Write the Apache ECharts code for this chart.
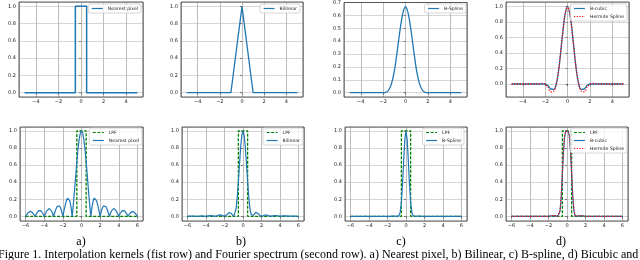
<!DOCTYPE html>
<html>
<head>
<meta charset="utf-8">
<script src="https://cdn.jsdelivr.net/npm/echarts@6/dist/echarts.min.js"></script>
<style>
html,body{margin:0;padding:0;background:#fff;}
#chart{width:640px;height:260px;}
</style>
</head>
<body>
<div id="chart"></div>
<script>
// ---------- DATA ----------
// Top row: interpolation kernels
const nearestKernelX = [-5, -0.5, -0.5, 0.5, 0.5, 5];
const nearestKernelY = [0, 0, 1, 1, 0, 0];
const bilinearKernelX = [-5, -1, 0, 1, 5];
const bilinearKernelY = [0, 0, 1, 0, 0];
const kernelX = [
  -5, -4.75, -4.5, -4.25,
  -4, -3.75, -3.5, -3.25,
  -3, -2.75, -2.5, -2.25,
  -2, -1.75, -1.5, -1.25,
  -1, -0.75, -0.5, -0.25,
  0, 0.25, 0.5, 0.75,
  1, 1.25, 1.5, 1.75,
  2, 2.25, 2.5, 2.75,
  3, 3.25, 3.5, 3.75,
  4, 4.25, 4.5, 4.75,
  5
];
const bsplineKernel = [
  0, 0, 0, 0,
  0, 0, 0, 0,
  0, 0, 0, 0,
  0, 0.003, 0.021, 0.070,
  0.167, 0.315, 0.479, 0.612,
  0.667, 0.612, 0.479, 0.315,
  0.167, 0.070, 0.021, 0.003,
  0, 0, 0, 0,
  0, 0, 0, 0,
  0, 0, 0, 0,
  0
];
const bicubicKernel = [
  0, 0, 0, 0,
  0, 0, 0, 0,
  0, 0, 0, 0,
  0, -0.023, -0.063, -0.070,
  0, 0.227, 0.563, 0.867,
  1, 0.867, 0.563, 0.227,
  0, -0.070, -0.063, -0.023,
  0, 0, 0, 0,
  0, 0, 0, 0,
  0, 0, 0, 0,
  0
];
const hermiteKernel = [
  0, 0, 0, 0,
  0, 0, 0, 0,
  0, 0, 0.004, 0.008,
  0, -0.040, -0.100, -0.095,
  0, 0.225, 0.560, 0.870,
  1, 0.870, 0.560, 0.225,
  0, -0.095, -0.100, -0.040,
  0, 0.008, 0.004, 0,
  0, 0, 0, 0,
  0, 0, 0, 0,
  0
];

// Bottom row: Fourier spectra
const lpfX = [-6, -0.5, -0.5, 0.5, 0.5, 6];
const lpfY = [0, 0, 1, 1, 0, 0];
const freqX = [
  -6, -5.875, -5.75, -5.625, -5.5, -5.375, -5.25, -5.125,
  -5, -4.875, -4.75, -4.625, -4.5, -4.375, -4.25, -4.125,
  -4, -3.875, -3.75, -3.625, -3.5, -3.375, -3.25, -3.125,
  -3, -2.875, -2.75, -2.625, -2.5, -2.375, -2.25, -2.125,
  -2, -1.875, -1.75, -1.625, -1.5, -1.375, -1.25, -1.125,
  -1, -0.875, -0.75, -0.625, -0.5, -0.375, -0.25, -0.125,
  0, 0.125, 0.25, 0.375, 0.5, 0.625, 0.75, 0.875,
  1, 1.125, 1.25, 1.375, 1.5, 1.625, 1.75, 1.875,
  2, 2.125, 2.25, 2.375, 2.5, 2.625, 2.75, 2.875,
  3, 3.125, 3.25, 3.375, 3.5, 3.625, 3.75, 3.875,
  4, 4.125, 4.25, 4.375, 4.5, 4.625, 4.75, 4.875,
  5, 5.125, 5.25, 5.375, 5.5, 5.625, 5.75, 5.875,
  6
];
const nearestSpectrum = [
  0.000, 0.021, 0.039, 0.052, 0.058, 0.055, 0.043, 0.024,
  0.000, 0.025, 0.047, 0.064, 0.071, 0.067, 0.053, 0.030,
  0.000, 0.031, 0.060, 0.081, 0.091, 0.087, 0.069, 0.039,
  0.000, 0.042, 0.082, 0.112, 0.127, 0.124, 0.100, 0.057,
  0.000, 0.065, 0.129, 0.181, 0.212, 0.214, 0.180, 0.108,
  0.000, 0.139, 0.300, 0.471, 0.637, 0.784, 0.900, 0.974,
  1.000, 0.974, 0.900, 0.784, 0.637, 0.471, 0.300, 0.139,
  0.000, 0.108, 0.180, 0.214, 0.212, 0.181, 0.129, 0.065,
  0.000, 0.057, 0.100, 0.124, 0.127, 0.112, 0.082, 0.042,
  0.000, 0.039, 0.069, 0.087, 0.091, 0.081, 0.060, 0.031,
  0.000, 0.030, 0.053, 0.067, 0.071, 0.064, 0.047, 0.025,
  0.000, 0.024, 0.043, 0.055, 0.058, 0.052, 0.039, 0.021,
  0.000
];
const bilinearSpectrum = [
  0.000, 0.000, 0.002, 0.003, 0.003, 0.003, 0.002, 0.001,
  0.000, 0.001, 0.002, 0.004, 0.005, 0.005, 0.003, 0.001,
  0.000, 0.001, 0.004, 0.007, 0.008, 0.008, 0.005, 0.002,
  0.000, 0.002, 0.007, 0.013, 0.016, 0.015, 0.010, 0.003,
  0.000, 0.004, 0.017, 0.033, 0.045, 0.046, 0.032, 0.012,
  0.000, 0.019, 0.090, 0.222, 0.405, 0.615, 0.811, 0.949,
  1.000, 0.949, 0.811, 0.615, 0.405, 0.222, 0.090, 0.019,
  0.000, 0.012, 0.032, 0.046, 0.045, 0.033, 0.017, 0.004,
  0.000, 0.003, 0.010, 0.015, 0.016, 0.013, 0.007, 0.002,
  0.000, 0.002, 0.005, 0.008, 0.008, 0.007, 0.004, 0.001,
  0.000, 0.001, 0.003, 0.005, 0.005, 0.004, 0.002, 0.001,
  0.000, 0.001, 0.002, 0.003, 0.003, 0.003, 0.002, 0.000,
  0.000
];
const bsplineSpectrum = [
  0, 0, 0, 0, 0, 0, 0, 0,
  0, 0, 0, 0, 0, 0, 0, 0,
  0, 0, 0, 0, 0, 0, 0, 0,
  0, 0, 0, 0, 0, 0, 0, 0,
  0.000, 0.000, 0.000, 0.001, 0.002, 0.002, 0.001, 0.000,
  0.000, 0.000, 0.008, 0.049, 0.164, 0.378, 0.657, 0.901,
  1.000, 0.901, 0.657, 0.378, 0.164, 0.049, 0.008, 0.000,
  0.000, 0.000, 0.001, 0.002, 0.002, 0.001, 0.000, 0.000,
  0, 0, 0, 0, 0, 0, 0, 0,
  0, 0, 0, 0, 0, 0, 0, 0,
  0, 0, 0, 0, 0, 0, 0, 0,
  0, 0, 0, 0, 0, 0, 0, 0,
  0
];
const bicubicSpectrum = [
  0, 0, 0, 0, 0, 0, 0, 0,
  0, 0, 0, 0, 0, 0, 0, 0,
  0, 0, 0, 0, 0, 0, 0, 0,
  0, 0, 0, 0, 0, 0, 0, 0,
  0.000, 0.001, 0.004, 0.005, 0.006, 0.006, 0.005, 0.002,
  0.000, 0.006, 0.063, 0.227, 0.493, 0.766, 0.939, 0.996,
  1.000, 0.996, 0.939, 0.766, 0.493, 0.227, 0.063, 0.006,
  0.000, 0.002, 0.005, 0.006, 0.006, 0.005, 0.004, 0.001,
  0, 0, 0, 0, 0, 0, 0, 0,
  0, 0, 0, 0, 0, 0, 0, 0,
  0, 0, 0, 0, 0, 0, 0, 0,
  0, 0, 0, 0, 0, 0, 0, 0,
  0
];
const hermiteSpectrum = [
  0, 0, 0, 0, 0, 0, 0, 0,
  0, 0, 0, 0, 0, 0, 0, 0,
  0, 0, 0, 0, 0, 0, 0, 0,
  0, 0, 0, 0, 0, 0, 0, 0,
  0.000, 0.001, 0.004, 0.007, 0.009, 0.009, 0.007, 0.003,
  0.000, 0.010, 0.072, 0.245, 0.520, 0.790, 0.950, 0.997,
  1.000, 0.997, 0.950, 0.790, 0.520, 0.245, 0.072, 0.010,
  0.000, 0.003, 0.007, 0.009, 0.009, 0.007, 0.004, 0.001,
  0, 0, 0, 0, 0, 0, 0, 0,
  0, 0, 0, 0, 0, 0, 0, 0,
  0, 0, 0, 0, 0, 0, 0, 0,
  0, 0, 0, 0, 0, 0, 0, 0,
  0
];

const panelLetters = ['a)', 'b)', 'c)', 'd)'];
const captionText = 'Figure 1. Interpolation kernels (fist row) and Fourier spectrum (second row). a) Nearest pixel, b) Bilinear, c) B-spline, d) Bicubic and';

// ---------- CHART ----------
const pairs = (xs, ys) => xs.map((x, i) => [x, ys[i]]);
const BLUE = '#1f77b4', GREEN = '#008000', RED = '#ff0000';
const TICK_FONT = 'DejaVu Sans';

// layout: [left, top, width, height, xmin, xmax, xstep, ymin, ymax, ystep, showMaxY]
const layout = [
  [19, 2, 124, 95, -5.5, 5.5, 2, -0.05, 1.05, 0.2, false],
  [181, 2, 122, 95, -5.5, 5.5, 2, -0.05, 1.05, 0.2, false],
  [344, 2, 123, 95, -5.5, 5.5, 2, -0.0333, 0.7, 0.1, true],
  [506, 2, 123, 95, -5.5, 5.5, 2, -0.167, 1.055, 0.2, false],
  [20, 127, 123, 94, -6.6, 6.6, 2, -0.055, 1.045, 0.2, false],
  [182, 127, 122, 94, -6.6, 6.6, 2, -0.055, 1.045, 0.2, false],
  [345, 127, 122, 94, -6.6, 6.6, 2, -0.055, 1.045, 0.2, false],
  [506, 127, 122, 94, -6.6, 6.6, 2, -0.055, 1.045, 0.2, false]
];

const grids = [], xAxes = [], yAxes = [];
layout.forEach((p, i) => {
  grids.push({left: p[0], top: p[1], width: p[2], height: p[3], show: true, z: 3,
    backgroundColor: 'transparent', borderColor: '#333', borderWidth: 0.8});
  xAxes.push({
    gridIndex: i, type: 'value', min: p[4], max: p[5], minInterval: p[6], maxInterval: p[6], splitNumber: 6,
    axisLine: {show: false},
    axisTick: {show: true, length: 2, lineStyle: {color: '#333', width: 0.6}},
    axisLabel: {fontSize: 5, fontFamily: TICK_FONT, color: '#222', margin: 2.5, showMinLabel: false, showMaxLabel: false,
      formatter: v => (v < 0 ? '\u2212' + Math.abs(v) : String(v))},
    splitLine: {show: true, lineStyle: {color: '#bdbdbd', width: 1}}
  });
  yAxes.push({
    gridIndex: i, type: 'value', min: p[7], max: p[8], minInterval: p[9], maxInterval: p[9], splitNumber: 6,
    axisLine: {show: false},
    axisTick: {show: true, length: 2, lineStyle: {color: '#333', width: 0.6}},
    axisLabel: {fontSize: 5, fontFamily: TICK_FONT, color: '#222', margin: 3, showMinLabel: false, showMaxLabel: p[10],
      formatter: v => Math.abs(v).toFixed(1)},
    splitLine: {show: true, lineStyle: {color: '#d6d6d6', width: 1}}
  });
});

function line(name, idx, data, color, width, type, smooth) {
  return {
    name, type: 'line', xAxisIndex: idx, yAxisIndex: idx, data,
    symbol: 'none', smooth: smooth || false, silent: true,
    lineStyle: {color, width, type: type || 'solid'},
    itemStyle: {color}
  };
}

const series = [
  line('Nearest pixel', 0, pairs(nearestKernelX, nearestKernelY), BLUE, 1.5),
  line('Bilinear', 1, pairs(bilinearKernelX, bilinearKernelY), BLUE, 1.3),
  line('B-Spline', 2, pairs(kernelX, bsplineKernel), BLUE, 1.3, 'solid', 0.3),
  line('B-cubic', 3, pairs(kernelX, bicubicKernel), BLUE, 1.3, 'solid', 0.3),
  line('Hermite Spline', 3, pairs(kernelX, hermiteKernel), RED, 1.3, [1.2, 1.5], 0.3),
  line('LPF', 4, pairs(lpfX, lpfY), GREEN, 1.3, [3, 1.5]),
  line('Nearest pixel', 4, pairs(freqX, nearestSpectrum), BLUE, 1.2),
  line('LPF', 5, pairs(lpfX, lpfY), GREEN, 1.3, [3, 1.5]),
  line('Bilinear', 5, pairs(freqX, bilinearSpectrum), BLUE, 1.2),
  line('LPF', 6, pairs(lpfX, lpfY), GREEN, 1.3, [3, 1.5]),
  line('B-Spline', 6, pairs(freqX, bsplineSpectrum), BLUE, 1.2),
  line('LPF', 7, pairs(lpfX, lpfY), GREEN, 1.3, [3, 1.5]),
  line('B-cubic', 7, pairs(freqX, bicubicSpectrum), BLUE, 1.2),
  line('Hermite Spline', 7, pairs(freqX, hermiteSpectrum), RED, 1.2, [1.2, 1.5])
];

function legend(names, right, top) {
  return {
    data: names, right, top, orient: 'vertical', padding: [2, 3, 2, 3], itemGap: 3,
    itemWidth: 11, itemHeight: 4, selectedMode: false,
    textStyle: {fontSize: 4.6, fontFamily: TICK_FONT, color: '#222', padding: [0, 0, 0, 0]},
    itemStyle: {opacity: 0},
    lineStyle: {width: 1.2},
    borderColor: '#cccccc', borderWidth: 0.8, borderRadius: 2,
    backgroundColor: 'rgba(255,255,255,0.8)', z: 6
  };
}
const legends = [
  legend(['Nearest pixel'], 640 - 141, 4),
  legend(['Bilinear'], 640 - 300, 4),
  legend(['B-Spline'], 640 - 466, 4),
  legend(['B-cubic', 'Hermite Spline'], 640 - 627, 4),
  legend(['LPF', 'Nearest pixel'], 640 - 142, 128),
  legend(['LPF', 'Bilinear'], 640 - 303, 128),
  legend(['LPF', 'B-Spline'], 640 - 464, 128),
  legend(['LPF', 'B-cubic', 'Hermite Spline'], 640 - 627, 128)
];

const letterX = [81, 241, 401, 561];
const graphics = panelLetters.map((t, i) => ({
  type: 'text', x: letterX[i], y: 242,
  style: {text: t, font: '12px "Liberation Serif"', fill: '#000', textAlign: 'center', textVerticalAlign: 'middle'}
}));
graphics.push({
  type: 'text', x: -2, y: 255,
  style: {text: captionText, font: '12px "Liberation Serif"', fill: '#000', textAlign: 'left', textVerticalAlign: 'middle'}
});

const chart = echarts.init(document.getElementById('chart'), null, {renderer: 'canvas'});
chart.setOption({
  animation: false,
  backgroundColor: '#fff',
  grid: grids,
  xAxis: xAxes,
  yAxis: yAxes,
  legend: legends,
  series,
  graphic: graphics
});
</script>
</body>
</html>
